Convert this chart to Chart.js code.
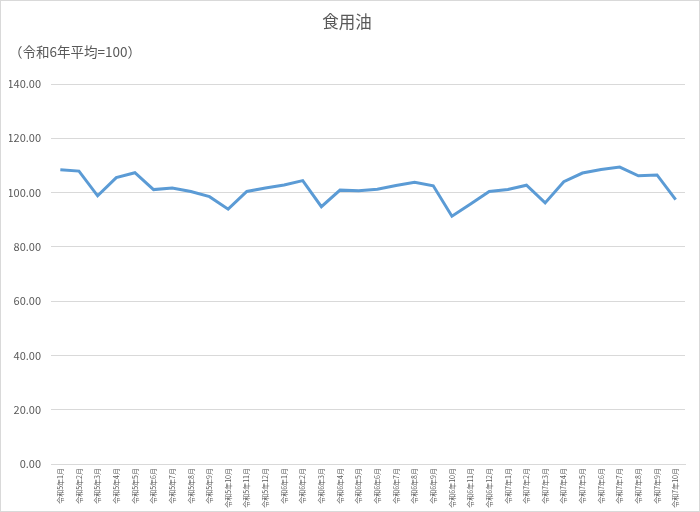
<!DOCTYPE html>
<html>
<head>
<meta charset="utf-8">
<script src="https://cdn.jsdelivr.net/npm/chart.js@4.4.1/dist/chart.umd.min.js"></script>
<style>
html,body{margin:0;padding:0;background:#fff;overflow:hidden;}
#wrap{position:relative;width:700px;height:512px;}
#frame{position:absolute;left:0;top:0;width:700px;height:512px;box-sizing:border-box;border:1px solid #d9d9d9;pointer-events:none;}
canvas{display:block;}
</style>
</head>
<body>
<div id="wrap"><canvas id="c" width="700" height="512"></canvas><div id="frame"></div></div>
<script>
const categories = [
  "令和5年1月","令和5年2月","令和5年3月","令和5年4月","令和5年5月","令和5年6月",
  "令和5年7月","令和5年8月","令和5年9月","令和5年10月","令和5年11月","令和5年12月",
  "令和6年1月","令和6年2月","令和6年3月","令和6年4月","令和6年5月","令和6年6月",
  "令和6年7月","令和6年8月","令和6年9月","令和6年10月","令和6年11月","令和6年12月",
  "令和7年1月","令和7年2月","令和7年3月","令和7年4月","令和7年5月","令和7年6月",
  "令和7年7月","令和7年8月","令和7年9月","令和7年10月"
];
const values = [
  108.4, 107.9, 98.8, 105.5, 107.3, 101.1,
  101.7, 100.4, 98.5, 93.9, 100.4, 101.7,
  102.8, 104.4, 94.8, 100.9, 100.7, 101.2,
  102.6, 103.8, 102.5, 91.3, 95.8, 100.4,
  101.1, 102.7, 96.2, 104.0, 107.2, 108.5,
  109.4, 106.2, 106.5, 97.4
];
const yMin = 0, yMax = 140, yStep = 20;
const titleText = "食用油";
const subtitleText = "（令和6年平均=100）";

const FONT = "'Noto Sans CJK JP', 'Noto Sans', sans-serif";
const TXT = "#595959";

new Chart(document.getElementById('c'), {
  type: 'line',
  data: {
    labels: categories,
    datasets: [{
      data: values,
      borderColor: '#5B9BD5',
      borderWidth: 3,
      pointRadius: 0,
      tension: 0,
      fill: false
    }]
  },
  options: {
    responsive: false,
    animation: false,
    devicePixelRatio: 1,
    layout: { padding: { left: 9, right: 15, top: 0, bottom: 0 } },
    plugins: {
      legend: { display: false },
      tooltip: { enabled: false },
      title: {
        display: true, text: titleText, color: TXT,
        font: { family: FONT, size: 16.5, weight: 'normal', lineHeight: 1.2 },
        padding: { top: 12, bottom: 6 }
      },
      subtitle: {
        display: true, text: subtitleText, color: TXT, align: 'start',
        font: { family: FONT, size: 13.5, weight: 'normal', lineHeight: 1.2 },
        padding: { top: 6, bottom: 24 }
      }
    },
    scales: {
      x: {
        offset: true,
        grid: { display: false, drawTicks: false },
        border: { display: true, color: '#d9d9d9' },
        ticks: {
          color: TXT, autoSkip: false, minRotation: 90, maxRotation: 90,
          font: { family: FONT, size: 7 }, padding: 4
        },
        afterFit: s => { s.height = 48; }
      },
      y: {
        min: yMin, max: yMax,
        grid: { color: '#d9d9d9', drawTicks: false },
        border: { display: false },
        ticks: {
          stepSize: yStep, color: TXT, padding: 10,
          font: { family: FONT, size: 11 },
          callback: v => Number(v).toFixed(2)
        },
        afterFit: s => { s.width = 42; }
      }
    }
  }
});
</script>
</body>
</html>
